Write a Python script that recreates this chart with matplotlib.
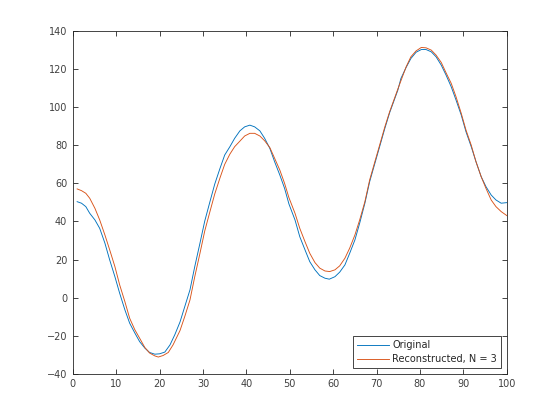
import matplotlib
matplotlib.use('Agg')
import matplotlib.pyplot as plt

# values
x_orig = [1, 2, 3, 3.9, 5.1, 6.2, 7.4, 8.5, 9.7, 10.8, 12.0, 13.1, 14.3, 15.4, 16.6,
          17.7, 18.9, 20.0, 21.2, 22.4, 23.5, 24.7, 25.8, 27.0, 28.1, 29.3, 30.4,
          31.6, 32.7, 33.9, 35.0, 36.2, 37.3, 38.5, 39.6, 40.8, 41.9, 43.1, 44.2,
          45.4, 46.5, 47.7, 48.8, 49.8, 51.2, 52.3, 53.5, 54.6, 55.8, 56.9, 58.1,
          59.1, 60.4, 61.5, 62.7, 63.8, 65.0, 66.1, 67.3, 68.4, 69.6, 70.7, 71.9,
          73.0, 74.9, 75.6, 76.8, 77.9, 79.1, 80.3, 81.4, 82.6, 83.7, 84.9, 86.0,
          87.2, 88.3, 89.5, 90.6, 91.8, 92.9, 94.1, 95.2, 96.4, 97.5, 98.7, 100]
y_orig = [50.4, 49.6, 47.8, 44.3, 40.8, 36.4, 28.6, 19.8, 11.0, 2.3, -6.4, -13.4,
          -18.6, -23.1, -26.5, -28.8, -29.7, -29.5, -28.6, -24.8, -19.5, -12.8,
          -4.7, 4.1, 16.3, 28.6, 40.2, 50.4, 59.6, 67.8, 74.9, 79.3, 83.7, 87.6,
          89.7, 90.6, 89.7, 87.6, 83.7, 78.4, 71.4, 64.4, 57.4, 49.2, 40.8, 32.0,
          25.1, 18.9, 14.6, 11.6, 10.2, 9.7, 11.0, 13.4, 17.2, 23.3, 30.3, 39.1,
          49.6, 60.9, 70.5, 79.3, 88.9, 97.1, 109.0, 115.1, 120.9, 125.6, 128.9,
          130.3, 130.3, 129.1, 126.5, 122.1, 116.9, 110.7, 103.8, 95.9, 87.1, 79.3,
          71.4, 63.5, 58.3, 53.9, 51.3, 49.6, 49.9]

x_rec = [1, 2, 3, 3.9, 5.1, 6.2, 7.4, 8.5, 9.7, 10.8, 12.0, 13.1, 14.3, 15.4, 16.6,
         17.7, 18.9, 19.7, 20.8, 22.0, 23.1, 24.7, 25.8, 27.0, 28.1, 29.3, 30.4,
         31.6, 32.7, 33.9, 35.0, 36.2, 37.3, 38.5, 39.6, 40.8, 41.9, 43.1, 44.2,
         45.4, 46.5, 47.7, 48.8, 49.8, 51.2, 52.3, 53.5, 54.6, 55.8, 56.9, 58.1,
         59.2, 60.4, 61.5, 62.7, 63.8, 65.0, 66.1, 67.3, 68.4, 69.6, 70.7, 71.9,
         73.0, 74.9, 76.8, 77.9, 79.1, 80.3, 81.4, 82.6, 83.7, 84.9, 86.0, 87.2,
         88.3, 89.5, 90.6, 91.8, 92.9, 94.1, 95.2, 96.4, 97.5, 98.7, 100]
y_rec = [57.1, 56.2, 54.8, 52.2, 46.9, 40.8, 32.9, 25.1, 16.3, 6.7, -2.1, -10.8,
         -16.9, -21.3, -26.2, -29.1, -30.6, -31.2, -30.4, -28.8, -24.8, -17.3,
         -9.9, -1.2, 11.0, 23.3, 35.0, 45.2, 54.4, 62.8, 70.0, 75.4, 79.3, 82.2,
         84.9, 86.3, 86.3, 84.9, 82.4, 78.8, 73.2, 67.0, 60.0, 52.5, 44.3, 36.4,
         29.4, 23.3, 18.4, 15.5, 14.0, 13.7, 14.6, 16.7, 20.7, 26.0, 32.9, 40.8,
         50.4, 61.8, 71.4, 80.1, 89.7, 97.6, 109.6, 121.2, 126.5, 129.6, 131.4,
         131.2, 130.0, 127.4, 123.5, 118.1, 112.5, 105.5, 96.8, 88.0, 80.1, 71.4,
         63.5, 57.4, 51.3, 47.8, 45.2, 43.1]

fig = plt.figure(figsize=(5.6, 4.2), dpi=100)
ax = fig.add_axes([0.130, 0.110, 0.775, 0.816])

ax.plot(x_orig, y_orig, color=(0, 0.447, 0.741), lw=0.65, label='Original')
ax.plot(x_rec, y_rec, color=(0.85, 0.325, 0.098), lw=0.65, label='Reconstructed, N = 3')

ax.set_xlim(0, 100)
ax.set_ylim(-40, 140)
ax.set_xticks(range(0, 101, 10))
ax.set_yticks(range(-40, 141, 20))
ax.tick_params(direction='in', top=True, right=True, length=3.5, width=0.6,
               labelsize=7, colors='#262626', labelcolor='#404040', pad=4)
for s in ax.spines.values():
    s.set_linewidth(0.6)
    s.set_color('#262626')

leg = ax.legend(loc='lower right', fontsize=7, frameon=True, fancybox=False,
                edgecolor='#262626', framealpha=1, handlelength=3.3,
                handletextpad=0.3, borderaxespad=0.6, borderpad=0.4,
                labelspacing=0.4)
leg.get_frame().set_linewidth(0.6)
for t in leg.get_texts():
    t.set_color('#262626')

fig.savefig('out.png', dpi=100)
